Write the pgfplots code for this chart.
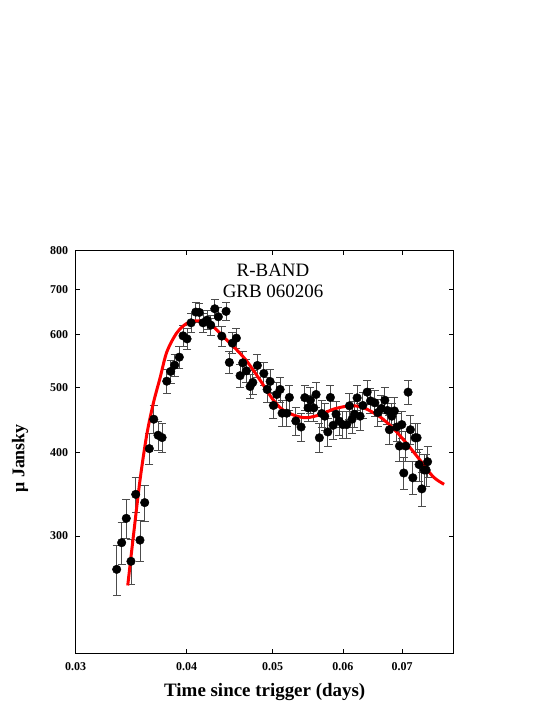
\documentclass[border=0pt]{standalone}
\usepackage{fontspec}
\setmainfont{Liberation Serif}
\usepackage{pgfplots}
\usepackage{pgfplotstable}
\pgfplotsset{compat=1.18}

% R-band photometry: time (days), flux (micro Jansky), error
\pgfplotstableread{
x y e
0.03337 267.5 23
0.03380 293.2 21
0.03421 318.8 21
0.03463 275.0 21
0.03506 346.2 21
0.03545 295.8 21
0.03589 336.5 21
0.03632 405.1 21
0.03674 448.2 21
0.03715 424.2 21
0.03754 420.8 21
0.03800 510.8 21
0.03839 528.2 21
0.03879 539.8 21
0.03926 554.8 21
0.03964 597.0 21
0.04005 590.8 21
0.04047 624.3 21
0.04097 647.8 21
0.04135 647.1 21
0.04175 624.3 21
0.04219 630.2 21
0.04259 619.4 21
0.04304 655.2 21
0.04344 637.4 21
0.04383 596.4 21
0.04432 649.4 21
0.04470 544.8 21
0.04505 582.2 21
0.04552 592.3 21
0.04596 520.6 21
0.04628 544.0 21
0.04672 529.3 21
0.04717 501.6 21
0.04750 508.6 21
0.04807 539.2 21
0.04888 524.6 21
0.04930 496.5 21
0.04968 510.3 21
0.05011 469.9 21
0.05055 488.0 21
0.05099 496.5 21
0.05125 457.6 21
0.05188 457.6 21
0.05223 483.0 21
0.05311 445.5 21
0.05384 436.4 21
0.05436 482.7 21
0.05483 466.0 21
0.05516 478.5 21
0.05565 466.0 21
0.05598 488.0 21
0.05646 420.5 21
0.05681 457.1 21
0.05726 452.9 21
0.05771 429.0 21
0.05810 483.0 21
0.05851 438.9 21
0.05896 456.0 21
0.05942 445.5 21
0.06000 440.0 21
0.06062 440.0 21
0.06104 469.3 21
0.06146 448.2 21
0.06183 456.0 21
0.06227 482.3 21
0.06275 452.9 21
0.06320 469.9 21
0.06391 491.9 21
0.06446 477.4 21
0.06520 474.2 21
0.06571 458.7 21
0.06632 465.1 21
0.06691 478.5 21
0.06736 461.9 21
0.06771 432.3 21
0.06814 452.9 21
0.06860 461.2 21
0.06903 436.4 21
0.06950 408.7 21
0.06993 440.0 21
0.07029 372.6 21
0.07066 408.7 21
0.07108 491.9 21
0.07151 432.3 21
0.07196 366.5 21
0.07239 420.5 21
0.07276 420.5 21
0.07314 383.5 21
0.07366 352.8 21
0.07410 376.5 21
0.07448 376.5 21
0.07477 387.3 21
}\datatable

% model fit
\pgfplotstableread{
x y
0.03434 253.1
0.03484 299.0
0.03545 363.3
0.03607 424.2
0.03670 473.7
0.03734 516.1
0.03800 564.5
0.03899 602.7
0.04002 623.1
0.04107 628.7
0.04208 625.8
0.04288 615.8
0.04402 595.0
0.04537 572.3
0.04677 547.2
0.04841 512.6
0.05011 478.5
0.05143 462.3
0.05325 452.9
0.05465 450.5
0.05656 455.2
0.05855 463.9
0.06062 468.7
0.06248 468.7
0.06386 463.9
0.06610 451.8
0.06842 434.1
0.07084 412.2
0.07333 389.3
0.07591 367.5
0.07805 358.4
}\fittable

\begin{document}
\begin{tikzpicture}[x=1bp,y=1bp]
\path[use as bounding box] (0,0) rectangle (545,705);
\begin{axis}[
    at={(75.7bp,51bp)}, anchor=south west,
    scale only axis,
    width=378bp, height=403.3bp,
    xmode=log, ymode=log,
    xmin=0.03, xmax=0.08,
    ymin=200, ymax=800,
    xtick={0.03,0.04,0.05,0.06,0.07},
    xticklabels={\textbf{0.03},\textbf{0.04},\textbf{0.05},\textbf{0.06},\textbf{0.07}},
    ytick={300,400,500,600,700,800},
    yticklabels={\textbf{300},\textbf{400},\textbf{500},\textbf{600},\textbf{700},\textbf{800}},
    minor xtick={}, minor ytick={},
    tick align=inside,
    major tick length=4.5bp,
    tick style={black, line width=0.6bp},
    axis line style={line width=1bp},
    tick label style={font=\fontsize{12}{14}\selectfont},
    xticklabel style={yshift=-5bp},
    yticklabel style={xshift=-4bp},
    xlabel={\textbf{Time since trigger (days)}},
    xlabel style={font=\fontsize{19}{22}\selectfont, at={(axis description cs:0.5,-0.094)}, anchor=center},
    ylabel={\textbf{μ Jansky}},
    ylabel style={font=\fontsize{18}{22}\selectfont, at={(axis description cs:-0.147,0.485)}, anchor=center},
]
\addplot+[only marks, mark=*, mark size=4.3bp,
    mark options={black, fill=black},
    error bars/.cd, y dir=both, y explicit,
    error bar style={black!70, line width=0.9bp},
    error mark options={rotate=90, mark size=4bp, black!70, line width=0.9bp}]
    table[x=x, y=y, y error=e] {\datatable};
\addplot[red, line width=3bp, smooth] table[x=x, y=y] {\fittable};
\node[align=center, font=\fontsize{19}{21}\selectfont] at (rel axis cs:0.522,0.926) {R-BAND\\GRB 060206};
\end{axis}
\end{tikzpicture}
\end{document}
